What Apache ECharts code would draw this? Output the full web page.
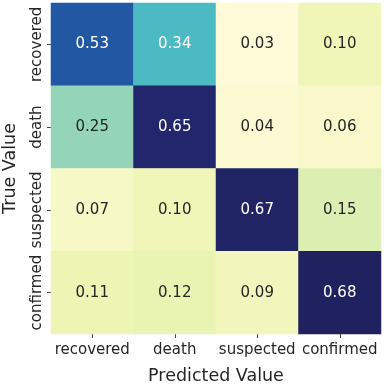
<!DOCTYPE html>
<html><head><meta charset="utf-8">
<script src="https://cdn.jsdelivr.net/npm/echarts@6/dist/echarts.min.js"></script>
<style>html,body{margin:0;padding:0;background:#fff}#c{width:384px;height:384px}</style>
</head><body><div id="c"></div>
<script>
const predicted = ['recovered', 'death', 'suspected', 'confirmed'];
const trueLabels = ['recovered', 'death', 'suspected', 'confirmed'];
const matrix = [
  [0.53, 0.34, 0.03, 0.10],
  [0.25, 0.65, 0.04, 0.06],
  [0.07, 0.10, 0.67, 0.15],
  [0.11, 0.12, 0.09, 0.68]
];
const data = [];
matrix.forEach((row, i) => row.forEach((v, j) => {
  data.push({value: [j, i, v], label: {color: v > 0.3 ? '#ffffff' : '#262626'}});
}));
const chart = echarts.init(document.getElementById('c'));
const font = 'DejaVu Sans';
chart.setOption({
  animation: false,
  textStyle: {fontFamily: font},
  grid: {left: 51, right: 3, top: 3, bottom: 50, outerBoundsMode: 'none', containLabel: false},
  xAxis: {
    type: 'category', data: predicted,
    name: 'Predicted Value', nameLocation: 'middle', nameGap: 33,
    nameTextStyle: {fontSize: 17.5, color: '#262626', fontFamily: font},
    axisLine: {show: false},
    axisTick: {show: true, alignWithLabel: true, interval: 0, length: 4, lineStyle: {color: '#444'}},
    axisLabel: {interval: 0, fontSize: 15, color: '#262626', margin: 9, fontFamily: font},
    splitLine: {show: false}
  },
  yAxis: {
    type: 'category', data: trueLabels, inverse: true,
    name: 'True Value', nameLocation: 'middle', nameGap: 32,
    nameTextStyle: {fontSize: 17.5, color: '#262626', fontFamily: font},
    axisLine: {show: false},
    axisTick: {show: true, alignWithLabel: true, interval: 0, length: 4, lineStyle: {color: '#444'}},
    axisLabel: {interval: 0, fontSize: 15, color: '#262626', rotate: 90, margin: 6, fontFamily: font, verticalAlign: 'bottom'},
    splitLine: {show: false}
  },
  visualMap: {
    show: false, min: 0.03, max: 0.68, dimension: 2,
    inRange: {color: ['#fffad8', '#edf5b3', '#c7e9b4', '#7fcdbb', '#41b6c4', '#1d91c0', '#225ea8', '#252f85', '#20225f']}
  },
  series: [{
    type: 'heatmap', data: data,
    label: {show: true, fontSize: 15, fontFamily: font, formatter: p => p.value[2].toFixed(2)},
    itemStyle: {borderWidth: 0}
  }]
});
</script></body></html>
